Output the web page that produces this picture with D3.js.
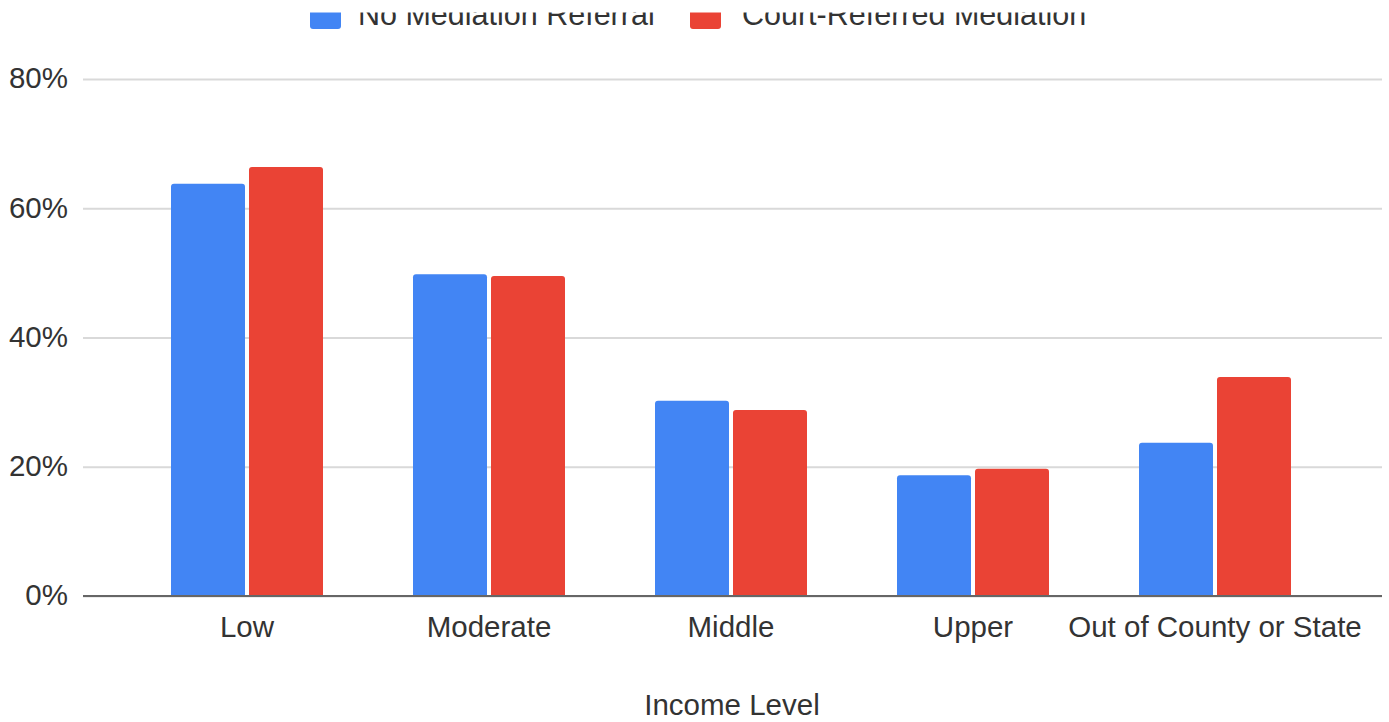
<!DOCTYPE html>
<html>
<head>
<meta charset="utf-8">
<script src="https://cdn.jsdelivr.net/npm/d3@7"></script>
<style>
  html, body { margin: 0; padding: 0; background: #fff; }
  svg { display: block; }
  text { font-family: "Liberation Sans", Arial, sans-serif; }
</style>
</head>
<body>
<svg id="chart" width="1389" height="722"></svg>
<script>
// Share of cases by income level, split by mediation referral
const categories = ["Low", "Moderate", "Middle", "Upper", "Out of County or State"];
const seriesNames = ["No Mediation Referral", "Court-Referred Mediation"];
const noReferral = [63.8, 49.8, 30.2, 18.7, 23.7];
const courtReferred = [66.4, 49.5, 28.8, 19.7, 33.9];
const yTicks = [0, 20, 40, 60, 80];
const colors = ["#4285F4", "#EA4335"];
const xTitle = "Income Level";

const seriesValues = [noReferral, courtReferred];
const rows = categories.map((c, i) => ({
  category: c,
  values: seriesNames.map((s, k) => ({ series: s, value: seriesValues[k][i], color: colors[k] }))
}));

const svg = d3.select("#chart");
const plotLeft = 83, plotRight = 1382;
const plotTop = 79, plotBottom = 596;
const labelSize = 29.5;

const y = d3.scaleLinear().domain([0, 80]).range([plotBottom, plotTop]);
const x0 = d3.scaleBand().domain(categories).range([126, 1336])
  .paddingInner(90 / 242).paddingOuter(45 / 242);
const x1 = d3.scaleBand().domain(seriesNames).range([0, x0.bandwidth()]).paddingInner(4 / 78);

// Horizontal gridlines and percent labels
const yAxis = d3.axisLeft(y).tickValues(yTicks).tickFormat(d => d + "%")
  .tickSize(-(plotRight - plotLeft)).tickPadding(15);
const yg = svg.append("g").attr("transform", `translate(${plotLeft},0)`).call(yAxis);
yg.select(".domain").remove();
yg.selectAll(".tick line").attr("stroke", "#d9d9d9").attr("stroke-width", 2);
yg.selectAll(".tick text").attr("fill", "#333").attr("font-size", labelSize).attr("dy", "0.3em");

// Grouped bars with rounded tops
function topRounded(xp, yp, w, h, r) {
  r = Math.min(r, h, w / 2);
  return `M${xp},${yp + h}V${yp + r}Q${xp},${yp} ${xp + r},${yp}H${xp + w - r}` +
    `Q${xp + w},${yp} ${xp + w},${yp + r}V${yp + h}Z`;
}
const groups = svg.append("g").selectAll("g").data(rows).join("g")
  .attr("transform", d => `translate(${x0(d.category)},0)`);
groups.selectAll("path").data(d => d.values).join("path")
  .attr("fill", d => d.color)
  .attr("d", d => topRounded(x1(d.series), y(d.value), x1.bandwidth(), y(0) - y(d.value), 3));

// Baseline
svg.append("line").attr("x1", plotLeft).attr("x2", plotRight)
  .attr("y1", y(0)).attr("y2", y(0)).attr("stroke", "#666").attr("stroke-width", 2);

// Category labels
const xAxis = d3.axisBottom(x0).tickSize(0).tickPadding(0);
const xg = svg.append("g").attr("transform", `translate(0,${plotBottom})`).call(xAxis);
xg.select(".domain").remove();
xg.selectAll(".tick text").attr("fill", "#333").attr("font-size", labelSize)
  .attr("y", 41).attr("dy", 0);

// Axis title
svg.append("text").attr("x", 732).attr("y", 715).attr("text-anchor", "middle")
  .attr("fill", "#333").attr("font-size", labelSize).text(xTitle);

// Legend
const legendX = [310, 690];
const legend = svg.append("g").selectAll("g").data(seriesNames).join("g")
  .attr("transform", (d, i) => `translate(${legendX[i]},0)`);
legend.append("rect").attr("x", 0).attr("y", -1).attr("width", 31).attr("height", 30)
  .attr("rx", 3).attr("fill", (d, i) => colors[i]);
legend.append("text").attr("x", (d, i) => i === 0 ? 48 : 52).attr("y", 25).attr("fill", "#333")
  .attr("font-size", 30.5).text(d => d);

// Top edge of the frame hides the upper part of the legend row
svg.append("rect").attr("x", 0).attr("y", 0).attr("width", 1389).attr("height", 12.5).attr("fill", "#fff");
</script>
</body>
</html>
